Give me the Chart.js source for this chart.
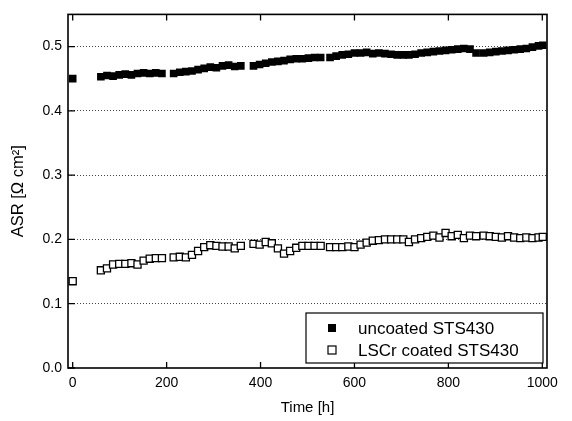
<!DOCTYPE html>
<html>
<head>
<meta charset="utf-8">
<script src="https://cdn.jsdelivr.net/npm/chart.js@4"></script>
<style>
  html, body { margin: 0; padding: 0; background: #fff; }
  #wrap { width: 572px; height: 421px; }
</style>
</head>
<body>
<div id="wrap"><canvas id="asr-chart" width="572" height="421"></canvas></div>
<script>
// DATA
const hours = [0,
    60, 73, 86, 99, 112, 125, 138, 151, 164, 177, 190,
    215, 228, 241, 254, 267, 280, 293, 306, 319, 332, 345, 358,
    385, 398, 411, 424, 437, 450, 463, 476, 489, 502, 515, 528,
    548, 561, 574, 587, 600, 613, 626, 639, 652, 665, 678, 691, 704,
    716, 729, 742, 755, 768, 781, 794, 807, 820, 833, 846, 859,
    875, 888, 901, 914, 927, 940, 953, 966, 979, 992, 1001];

const uncoated = [0.450,
    0.453, 0.455, 0.454, 0.456, 0.457, 0.456, 0.458, 0.459, 0.458, 0.459, 0.458,
    0.458, 0.460, 0.461, 0.462, 0.464, 0.466, 0.468, 0.467, 0.470, 0.471, 0.469, 0.470,
    0.470, 0.472, 0.474, 0.476, 0.477, 0.478, 0.480, 0.481, 0.481, 0.482, 0.483, 0.483,
    0.483, 0.485, 0.487, 0.488, 0.490, 0.490, 0.491, 0.489, 0.490, 0.489, 0.488, 0.487, 0.487,
    0.487, 0.488, 0.490, 0.491, 0.492, 0.493, 0.494, 0.495, 0.496, 0.497, 0.496, 0.490,
    0.490, 0.491, 0.492, 0.493, 0.494, 0.495, 0.496, 0.497, 0.499, 0.501, 0.502];

const coated = [0.135,
    0.152, 0.155, 0.161, 0.162, 0.162, 0.163, 0.161, 0.167, 0.170, 0.171, 0.171,
    0.172, 0.173, 0.172, 0.176, 0.182, 0.188, 0.191, 0.190, 0.189, 0.189, 0.186, 0.190,
    0.193, 0.192, 0.196, 0.194, 0.186, 0.178, 0.182, 0.187, 0.190, 0.190, 0.190, 0.190,
    0.188, 0.188, 0.188, 0.189, 0.188, 0.192, 0.195, 0.198, 0.199, 0.200, 0.200, 0.200, 0.200,
    0.196, 0.200, 0.202, 0.204, 0.206, 0.203, 0.210, 0.205, 0.207, 0.202, 0.206, 0.205,
    0.206, 0.205, 0.204, 0.203, 0.205, 0.203, 0.202, 0.203, 0.202, 0.203, 0.204];

const seriesLabels = ["uncoated STS430", "LSCr coated STS430"];
const xTicks = [0, 200, 400, 600, 800, 1000];
const yTicks = [0.0, 0.1, 0.2, 0.3, 0.4, 0.5];

const FONT = "'Liberation Sans', Arial, Helvetica, sans-serif";

const toPoints = (ys) => hours.map((h, i) => ({ x: h, y: ys[i] }));

// frame, inward ticks and boxed legend (drawn on top of the chart area)
const framePlugin = {
    id: "frame",
    afterDraw(chart) {
        const { ctx, chartArea: a, scales } = chart;
        ctx.save();
        ctx.strokeStyle = "#000";
        ctx.lineWidth = 1.6;
        ctx.strokeRect(a.left, a.top, a.right - a.left, a.bottom - a.top);

        ctx.lineWidth = 1.3;
        ctx.beginPath();
        xTicks.forEach((v) => {
            const px = scales.x.getPixelForValue(v);
            ctx.moveTo(px, a.bottom);
            ctx.lineTo(px, a.bottom - 6);
            ctx.moveTo(px, a.top);
            ctx.lineTo(px, a.top + 6);
        });
        yTicks.forEach((v) => {
            const py = scales.y.getPixelForValue(v);
            ctx.moveTo(a.left, py);
            ctx.lineTo(a.left + 7, py);
        });
        ctx.stroke();

        // legend box
        const w = 237, h = 50;
        const bx = a.right - 4 - w, by = a.bottom - 5 - h;
        ctx.fillStyle = "#fff";
        ctx.fillRect(bx, by, w, h);
        ctx.lineWidth = 1.2;
        ctx.strokeRect(bx, by, w, h);
        ctx.font = "17px " + FONT;
        ctx.textBaseline = "middle";
        chart.data.datasets.forEach((ds, i) => {
            const cy = by + 15 + i * 22;
            const mx = bx + 26;
            if (ds.backgroundColor === "#000") {
                ctx.fillStyle = "#000";
                ctx.fillRect(mx - 4, cy - 4, 8, 8);
            } else {
                ctx.fillStyle = "#fff";
                ctx.fillRect(mx - 4, cy - 4, 8, 8);
                ctx.lineWidth = 1.2;
                ctx.strokeRect(mx - 4, cy - 4, 8, 8);
            }
            ctx.fillStyle = "#000";
            ctx.fillText(ds.label, bx + 52, cy + 1);
        });
        ctx.restore();
    },
};

const ctx = document.getElementById("asr-chart").getContext("2d");

const config = {
    type: "scatter",
    data: {
        datasets: [
            {
                label: seriesLabels[0],
                data: toPoints(uncoated),
                pointStyle: "rect",
                pointRadius: 5.4,
                backgroundColor: "#000",
                borderColor: "#000",
                borderWidth: 0,
            },
            {
                label: seriesLabels[1],
                data: toPoints(coated),
                pointStyle: "rect",
                pointRadius: 5,
                backgroundColor: "#fff",
                borderColor: "#000",
                borderWidth: 1.3,
            },
        ],
    },
    options: {
        responsive: false,
        animation: false,
        layout: { padding: { top: 10, right: 25, left: 0, bottom: 0 } },
        plugins: {
            legend: { display: false },
            tooltip: { enabled: false },
        },
        scales: {
            x: {
                type: "linear",
                min: -10,
                max: 1010,
                afterBuildTicks: (s) => { s.ticks = xTicks.map((v) => ({ value: v })); },
                afterFit: (s) => { s.height = 53; },
                grid: { display: false, drawTicks: false },
                border: { display: false },
                ticks: {
                    padding: 7,
                    color: "#000",
                    font: { family: FONT, size: 14 },
                    callback: (v) => String(v),
                },
                title: {
                    display: true,
                    text: "Time [h]",
                    color: "#000",
                    font: { family: FONT, size: 15 },
                    padding: { top: 0, bottom: 4 },
                },
            },
            y: {
                min: 0,
                max: 0.55,
                afterBuildTicks: (s) => { s.ticks = yTicks.map((v) => ({ value: v })); },
                afterFit: (s) => { s.width = 68; },
                grid: {
                    drawTicks: false,
                    color: (c) => (c.tick && c.tick.value === 0 ? "rgba(0,0,0,0)" : "#444"),
                    lineWidth: 1,
                },
                border: { display: false, dash: [1, 2] },
                ticks: {
                    padding: 6,
                    color: "#000",
                    font: { family: FONT, size: 14 },
                    callback: (v) => Number(v).toFixed(1),
                },
                title: {
                    display: true,
                    text: "ASR [Ω cm²]",
                    color: "#000",
                    font: { family: FONT, size: 16.5 },
                    padding: { top: 9, bottom: 0 },
                },
            },
        },
    },
    plugins: [framePlugin],
};

const asrChart = new Chart(ctx, config);
</script>
</body>
</html>
